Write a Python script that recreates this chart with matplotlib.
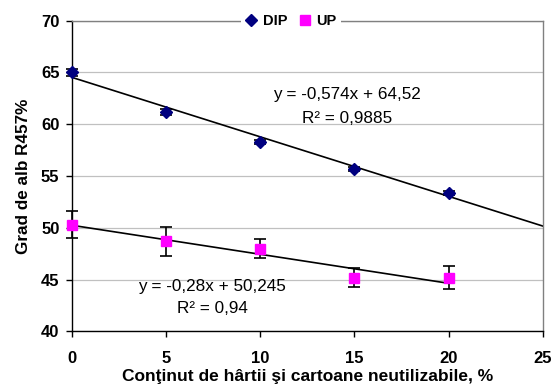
import matplotlib
matplotlib.use('Agg')
import matplotlib.pyplot as plt
import numpy as np

plt.rcParams['font.family'] = ['Liberation Sans', 'DejaVu Sans']

x_vals = [0, 5, 10, 15, 20]
dip_vals = [65.0, 61.2, 58.3, 55.7, 53.4]
dip_err = [0.3, 0.3, 0.2, 0.2, 0.2]
up_vals = [50.3, 48.7, 48.0, 45.2, 45.2]
up_err = [1.3, 1.4, 0.9, 0.9, 1.1]

# trendline coefficients (slope, intercept, R^2) and their x range
dip_fit = (-0.574, 64.52, 0.9885)
up_fit = (-0.28, 50.245, 0.94)
dip_fit_range = (0, 25)
up_fit_range = (0, 20)


def fmt(v):
    return str(v).replace('.', ',')


fig = plt.figure(figsize=(5.55, 3.89), dpi=100)
ax = fig.add_axes([0.1297, 0.148, 0.8483, 0.799])

ax.set_xlim(0, 25)
ax.set_ylim(40, 70)
ax.set_xticks([0, 5, 10, 15, 20, 25])
ax.set_yticks([40, 45, 50, 55, 60, 65, 70])
ax.yaxis.grid(True, color='#c0c0c0', linewidth=0.9)
ax.set_axisbelow(True)

for s in ['top', 'right']:
    ax.spines[s].set_color('#808080')
    ax.spines[s].set_linewidth(1.0)
for s in ['left', 'bottom']:
    ax.spines[s].set_color('black')
    ax.spines[s].set_linewidth(1.0)

ax.tick_params(direction='out', length=4, width=1, labelsize=12)
ax.tick_params(axis='y', pad=5)
ax.tick_params(axis='x', pad=10)
for lbl in ax.get_xticklabels() + ax.get_yticklabels():
    lbl.set_fontweight('bold')

# trendlines
for (m, b, r2), (x0, x1) in [(dip_fit, dip_fit_range), (up_fit, up_fit_range)]:
    xx = np.array([x0, x1])
    ax.plot(xx, m * xx + b, color='black', linewidth=1.2, zorder=2)

ax.errorbar(x_vals, dip_vals, yerr=dip_err, fmt='D', color='#000080',
            markersize=6.5, ecolor='black', elinewidth=1.2, capsize=4,
            capthick=1.2, zorder=3, clip_on=False, label='DIP')
ax.errorbar(x_vals, up_vals, yerr=up_err, fmt='s', color='#ff00ff',
            markersize=7, ecolor='black', elinewidth=1.2, capsize=4,
            capthick=1.2, zorder=3, clip_on=False, label='UP')

ax.text(14.6, 62.85, f'y = {fmt(dip_fit[0])}x + {fmt(dip_fit[1])}',
        ha='center', va='center', fontsize=12.3)
ax.text(14.6, 60.6, f'R² = {fmt(dip_fit[2])}', ha='center',
        va='center', fontsize=12.3)
ax.text(7.45, 44.3, f'y = {fmt(up_fit[0])}x + {fmt(up_fit[1])}',
        ha='center', va='center', fontsize=12.3)
ax.text(7.45, 42.25, f'R² = {fmt(up_fit[2])}', ha='center',
        va='center', fontsize=12.3)

handles, labels = ax.get_legend_handles_labels()
handles = [h[0] for h in handles]
leg = ax.legend(handles, labels, loc='center', bbox_to_anchor=(0.465, 1.0),
                ncol=2, frameon=True, fancybox=False, edgecolor='none',
                facecolor='white', framealpha=1, handlelength=0.8,
                handletextpad=0.4, columnspacing=0.8, borderpad=0.3,
                prop={'weight': 'bold', 'size': 10.5})
leg.set_zorder(5)

ax.set_xlabel('Conţinut de hârtii şi cartoane neutilizabile, %',
              fontsize=12.5, fontweight='bold', labelpad=2)
ax.set_ylabel('Grad de alb R457%', fontsize=12.3, fontweight='bold',
              labelpad=7)

fig.savefig('out.png', dpi=100)
